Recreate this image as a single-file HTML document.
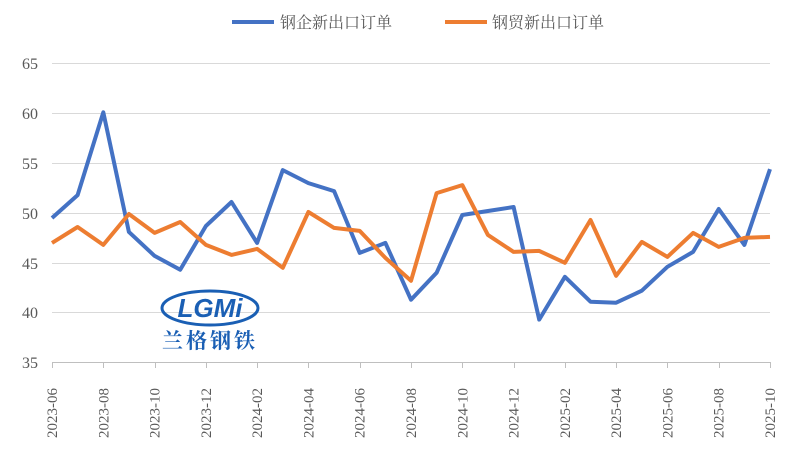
<!DOCTYPE html>
<html><head><meta charset="utf-8"><style>
body{margin:0;background:#fff;}
svg{display:block;font-family:"Liberation Serif","Noto Serif CJK SC",serif;}
</style></head><body>
<svg width="788" height="450" xmlns="http://www.w3.org/2000/svg">
<g stroke="#d9d9d9" stroke-width="1">
<line x1="52" x2="770" y1="63.5" y2="63.5"/>
<line x1="52" x2="770" y1="113.5" y2="113.5"/>
<line x1="52" x2="770" y1="163.5" y2="163.5"/>
<line x1="52" x2="770" y1="213.5" y2="213.5"/>
<line x1="52" x2="770" y1="263.5" y2="263.5"/>
<line x1="52" x2="770" y1="312.5" y2="312.5"/>
</g>
<line x1="52" x2="770" y1="362.5" y2="362.5" stroke="#bfbfbf"/>
<g id="tk" stroke="#bfbfbf"></g>
<g fill="#595959" font-size="16" text-anchor="end">
<text x="38" y="69">65</text><text x="38" y="119">60</text><text x="38" y="169">55</text>
<text x="38" y="219">50</text><text x="38" y="269">45</text><text x="38" y="318">40</text><text x="38" y="368">35</text>
</g>
<g id="xl" fill="#595959" font-size="15"></g>
<g transform="translate(160,288)">
<ellipse cx="50" cy="20" rx="48" ry="17" fill="none" stroke="#1a5fb4" stroke-width="3"/>
<text x="50" y="29" text-anchor="middle" font-size="26" font-weight="bold" font-style="italic" fill="#1a5fb4" font-family="Liberation Sans,sans-serif">LGMi</text>
<text x="50" y="60" text-anchor="middle" font-size="21" font-weight="bold" fill="#1a5fb4" letter-spacing="3">兰格钢铁</text>
</g>
<polyline id="b" fill="none" stroke="#4472c4" stroke-width="4" stroke-linejoin="round"/>
<polyline id="o" fill="none" stroke="#ed7d31" stroke-width="4" stroke-linejoin="round"/>
<line x1="232" x2="274" y1="22" y2="22" stroke="#4472c4" stroke-width="4"/>
<text x="280" y="28" font-size="16" fill="#595959">钢企新出口订单</text>
<line x1="445" x2="487" y1="22" y2="22" stroke="#ed7d31" stroke-width="4"/>
<text x="492" y="28" font-size="16" fill="#595959">钢贸新出口订单</text>
<script>
var B=[49.5,51.8,60.1,48.1,45.7,44.3,48.7,51.1,47.0,54.3,53.0,52.2,46.0,47.0,41.3,44.0,49.8,50.2,50.6,39.3,43.6,41.1,41.0,42.2,44.6,46.1,50.4,46.8,54.4];
var O=[47.0,48.6,46.8,49.9,48.0,49.1,46.8,45.8,46.4,44.5,50.1,48.5,48.2,45.5,43.2,52.0,52.8,47.8,46.1,46.2,45.0,49.3,43.7,47.1,45.6,48.0,46.6,47.5,47.6];
function X(i){return 52+i*718/28;}function Y(v){return 362.5-(v-35)*299/30;}
function pts(a){return a.map(function(v,i){return X(i).toFixed(1)+","+Y(v).toFixed(1)}).join(" ");}
document.getElementById("b").setAttribute("points",pts(B));
document.getElementById("o").setAttribute("points",pts(O));
var g=document.getElementById("xl"),tk=document.getElementById("tk"),ns="http://www.w3.org/2000/svg";
for(var i=0;i<29;i+=2){var y=2023,m=6+i;while(m>12){m-=12;y++;}
var l=document.createElementNS(ns,"line");var xx=Math.round(X(i))+0.5;
l.setAttribute("x1",xx);l.setAttribute("x2",xx);l.setAttribute("y1",362);l.setAttribute("y2",368);tk.appendChild(l);
var t=document.createElementNS(ns,"text");var x=X(i)+5;
t.setAttribute("transform","translate("+x+",438) rotate(-90)");
t.textContent=y+"-"+(m<10?"0"+m:m);g.appendChild(t);}
</script>
</svg>
</body></html>
